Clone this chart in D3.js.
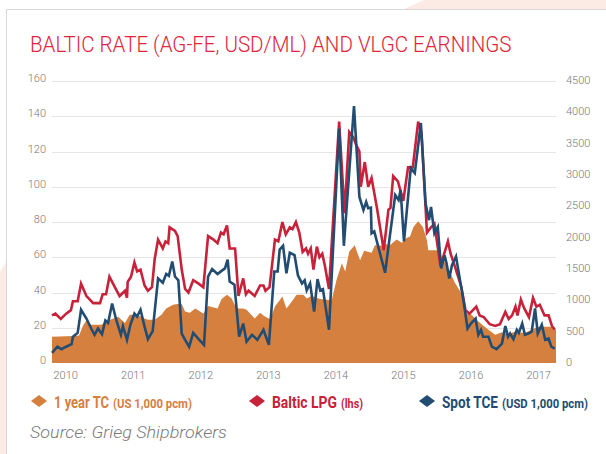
<!DOCTYPE html>
<meta charset="utf-8">
<head>
    <title>Baltic rate and VLGC earnings</title>
</head>
<script src="https://d3js.org/d3.v7.min.js"></script>
<style>
    body { margin: 0; background: #fff; }
    .tick-label { font-family: Roboto, sans-serif; font-size: 11px; font-weight: 300; fill: #777; }
    .grid { stroke: #e6e6e6; stroke-width: 1px; }
    .line { fill: none; stroke-width: 2.6px; stroke-linejoin: miter; }
</style>
<div id="viz"></div>
<script>
// ---- data (decimal year, value) ----
// Baltic LPG, left axis (USD/mt)
var balticLPG = [
 [2010.00,27],[2010.05,28],[2010.13,25],[2010.21,28],[2010.28,30],[2010.31,35],[2010.38,35],[2010.43,45],
 [2010.51,38],[2010.61,34],[2010.71,34],[2010.75,39],[2010.80,39],[2010.85,49],[2010.93,43],[2011.00,38],
 [2011.08,41],[2011.11,37],[2011.12,46],[2011.17,49],[2011.22,57],[2011.26,52],[2011.31,53],[2011.37,44],
 [2011.42,41],[2011.48,43],[2011.52,59],[2011.57,70],[2011.64,65],[2011.68,69],[2011.72,68],[2011.74,77],
 [2011.82,75],[2011.86,72],[2011.92,53],[2011.97,42],[2012.02,40],[2012.09,47],[2012.17,45],[2012.24,43],
 [2012.31,72],[2012.39,70],[2012.45,68],[2012.50,74],[2012.54,73],[2012.59,78],[2012.63,65],[2012.71,65],
 [2012.76,38],[2012.83,48],[2012.87,39],[2012.91,41],[2013.00,38],[2013.08,44],[2013.13,44],[2013.16,41],
 [2013.22,43],[2013.30,70],[2013.35,69],[2013.41,80],[2013.46,73],[2013.52,77],[2013.56,76],[2013.61,80],
 [2013.66,74],[2013.71,63],[2013.76,65],[2013.79,62],[2013.83,65],[2013.87,53],[2013.92,66],[2013.96,60],
 [2014.00,62],[2014.04,55],[2014.10,42],[2014.25,137],[2014.33,85],[2014.40,131],[2014.46,128],[2014.50,124],
 [2014.55,120],[2014.57,100],[2014.63,114],[2014.68,100],[2014.73,105],[2014.81,88],[2014.91,64],[2014.98,87],
 [2015.01,88],[2015.05,106],[2015.12,103],[2015.20,92],[2015.27,111],[2015.34,111],[2015.42,137],[2015.47,130],
 [2015.55,74],[2015.61,77],[2015.66,79],[2015.75,55],[2015.86,69],[2015.90,62],[2015.97,54],[2016.06,43],
 [2016.12,30],[2016.18,28],[2016.28,32],[2016.33,27],[2016.39,26],[2016.48,22],[2016.56,21],[2016.63,22],
 [2016.71,29],[2016.76,25],[2016.81,27],[2016.86,32],[2016.89,27],[2016.94,36],[2016.99,31],[2017.06,26],
 [2017.12,37],[2017.17,32],[2017.22,33],[2017.29,27],[2017.35,27],[2017.40,21],[2017.44,19]
];
// Spot TCE, right axis
var spotTCE = [
 [2010.00,160],[2010.08,260],[2010.14,220],[2010.21,260],[2010.29,300],[2010.31,420],[2010.38,480],[2010.43,850],
 [2010.51,710],[2010.58,550],[2010.63,450],[2010.68,550],[2010.74,460],[2010.79,680],[2010.83,640],[2010.89,950],
 [2010.95,690],[2011.02,450],[2011.05,590],[2011.11,370],[2011.16,610],[2011.22,790],[2011.26,740],[2011.31,850],
 [2011.37,580],[2011.42,380],[2011.49,510],[2011.57,1350],[2011.64,1280],[2011.69,1420],[2011.73,1390],[2011.78,1620],
 [2011.82,1380],[2011.87,1320],[2011.92,470],[2011.97,370],[2012.03,260],[2012.09,480],[2012.17,380],[2012.25,290],
 [2012.31,1380],[2012.37,1500],[2012.45,1420],[2012.51,1470],[2012.56,1510],[2012.60,1650],[2012.63,1300],[2012.70,1250],
 [2012.77,420],[2012.83,630],[2012.88,340],[2012.96,450],[2013.04,370],[2013.13,530],[2013.21,290],[2013.29,1460],
 [2013.34,1460],[2013.37,1810],[2013.42,1870],[2013.47,1430],[2013.52,1760],[2013.59,1720],[2013.64,1400],[2013.70,1270],
 [2013.74,1320],[2013.77,1160],[2013.82,1270],[2013.88,820],[2013.93,1340],[2013.97,1160],[2014.01,1180],[2014.10,530],
 [2014.25,3740],[2014.32,1870],[2014.47,4100],[2014.55,2650],[2014.61,2440],[2014.65,2570],[2014.68,2470],[2014.72,2480],
 [2014.73,2070],[2014.77,2100],[2014.93,1440],[2015.08,2680],[2015.13,2600],[2015.16,2760],[2015.21,1940],[2015.31,3110],
 [2015.37,3030],[2015.46,3830],[2015.53,2540],[2015.58,2280],[2015.61,2490],[2015.66,2070],[2015.71,2170],[2015.76,1510],
 [2015.81,1720],[2015.84,1590],[2015.88,1350],[2015.92,1560],[2015.98,1700],[2016.03,1380],[2016.09,1000],[2016.15,550],
 [2016.20,630],[2016.27,710],[2016.31,450],[2016.35,530],[2016.38,420],[2016.46,420],[2016.51,260],[2016.58,220],
 [2016.66,310],[2016.71,590],[2016.75,420],[2016.78,470],[2016.83,380],[2016.88,530],[2016.91,480],[2016.96,630],
 [2017.00,450],[2017.05,470],[2017.10,500],[2017.15,870],[2017.19,470],[2017.25,610],[2017.30,370],[2017.35,390],
 [2017.39,260],[2017.44,230]
];
// 1 year TC, right axis
var oneYearTC = [
 [2010.00,420],[2010.31,430],[2010.40,440],[2010.46,600],[2010.51,680],[2010.58,610],[2010.73,610],[2010.83,680],
 [2010.98,740],[2011.08,640],[2011.15,770],[2011.26,770],[2011.37,710],[2011.42,690],[2011.52,690],[2011.62,770],
 [2011.69,870],[2011.79,930],[2011.86,940],[2011.92,940],[2011.97,820],[2012.04,800],[2012.12,870],[2012.24,790],
 [2012.31,910],[2012.45,870],[2012.51,1020],[2012.59,1090],[2012.66,1030],[2012.73,870],[2012.83,870],[2012.88,850],
 [2013.00,710],[2013.08,800],[2013.14,750],[2013.23,700],[2013.30,900],[2013.41,1060],[2013.47,870],[2013.55,980],
 [2013.62,1090],[2013.72,1090],[2013.77,1030],[2013.84,1070],[2013.97,1020],[2014.14,1000],[2014.21,1320],[2014.29,1590],
 [2014.34,1460],[2014.40,1780],[2014.48,1880],[2014.56,1640],[2014.62,1790],[2014.73,1760],[2014.78,1880],[2014.88,1870],
 [2014.93,1900],[2015.00,1880],[2015.10,1970],[2015.18,1920],[2015.24,1990],[2015.30,2020],[2015.35,2170],[2015.42,2260],
 [2015.49,2170],[2015.55,1960],[2015.57,1800],[2015.69,1800],[2015.74,1740],[2015.86,1520],[2015.96,1290],[2016.06,1110],
 [2016.14,790],[2016.21,770],[2016.28,690],[2016.36,620],[2016.46,530],[2016.56,450],[2016.66,490],[2016.75,460],
 [2016.85,500],[2017.00,480],[2017.10,530],[2017.19,580],[2017.31,580],[2017.41,580],[2017.46,530]
];
var years = [2010, 2011, 2012, 2013, 2014, 2015, 2016, 2017];
var leftTicks = [0, 20, 40, 60, 80, 100, 120, 140, 160];
var rightTicks = [0, 500, 1000, 1500, 2000, 2500, 3000, 3500, 4000, 4500];
var legendItems = [
    {name: '1 year TC', unit: '(US 1,000 pcm)', color: '#d6803f'},
    {name: 'Baltic LPG', unit: '(lhs)', color: '#c8213a'},
    {name: 'Spot TCE', unit: '(USD 1,000 pcm)', color: '#224c72'}
];

var W = 606, H = 454;
var svg = d3.select('#viz').append('svg')
    .attr('width', W).attr('height', H);

// squeeze a text horizontally so it spans exactly `len` px
function fitText(sel, x, y, len) {
    var w = sel.node().getComputedTextLength();
    sel.attr('x', null).attr('y', null)
        .attr('transform', 'translate(' + x + ',' + y + ') scale(' + (len / w) + ',1)');
}

// background decoration + card
svg.append('path').attr('d', 'M404,9 L424,0 L606,0 L606,9 Z').attr('fill', '#fcebe4');
svg.append('path').attr('d', 'M0,272 L6,262 L6,454 L0,454 Z').attr('fill', '#fcebe4');
svg.append('path').attr('d', 'M6.5,454 L6.5,9.5 L606,9.5').attr('fill', 'none').attr('stroke', '#d8d8d8');

var title = svg.append('text')
    .style('font-family', 'Roboto, sans-serif').style('font-weight', 300)
    .style('font-size', '22px').style('fill', '#e2253c')
    .text('BALTIC RATE (AG-FE, USD/ML) AND VLGC EARNINGS');
fitText(title, 30, 52, 482);

var x = d3.scaleLinear().domain([2010, 2017.46]).range([52, 556]);
var yL = d3.scaleLinear().domain([0, 160]).range([363, 81]);
var yR = d3.scaleLinear().domain([0, 4500]).range([363, 81]);

// grid
svg.append('g').selectAll('line').data(leftTicks.slice(1)).enter().append('line')
    .attr('class', 'grid')
    .attr('x1', 52).attr('x2', 556)
    .attr('y1', function(d) { return Math.round(yL(d)) + 0.5; })
    .attr('y2', function(d) { return Math.round(yL(d)) + 0.5; });

// left axis
var gl = svg.append('g').attr('transform', 'translate(46,-3)')
    .call(d3.axisLeft(yL).tickValues(leftTicks).tickSize(0).tickPadding(0));
gl.select('.domain').remove();
gl.selectAll('text').attr('class', 'tick-label').attr('fill', null);

// right axis
var gr = svg.append('g').attr('transform', 'translate(566,-1)')
    .call(d3.axisRight(yR).tickValues(rightTicks).tickFormat(d3.format('d')).tickSize(0).tickPadding(0));
gr.select('.domain').remove();
gr.selectAll('text').attr('class', 'tick-label').attr('fill', null);

// x axis
var gx = svg.append('g').attr('transform', 'translate(1,371)')
    .call(d3.axisBottom(x).tickValues(years).tickFormat(d3.format('d')).tickSize(0).tickPadding(0));
gx.select('.domain').remove();
gx.selectAll('text').attr('class', 'tick-label').attr('fill', null).style('text-anchor', 'start');

// area
svg.append('path')
    .datum(oneYearTC)
    .attr('fill', '#d6803f')
    .attr('d', d3.area()
        .x(function(d) { return x(d[0]); })
        .y0(yR(0))
        .y1(function(d) { return yR(d[1]); }));

svg.append('path')
    .datum(balticLPG)
    .attr('class', 'line').attr('stroke', '#c8213a')
    .attr('d', d3.line().x(function(d) { return x(d[0]); }).y(function(d) { return yL(d[1]); }));

svg.append('path')
    .datum(spotTCE)
    .attr('class', 'line').attr('stroke', '#224c72')
    .attr('d', d3.line().x(function(d) { return x(d[0]); }).y(function(d) { return yR(d[1]); }));

// legend
var legX = [39, 257, 427];
var nameLen = [55, 65, 56];
var unitLen = [79, 22, 86];
legendItems.forEach(function(it, i) {
    var g = svg.append('g').attr('transform', 'translate(' + legX[i] + ',401)');
    g.append('path').attr('d', 'M-8,0 L0,-6 L8,0 L0,6 Z').attr('fill', it.color);
    var t1 = g.append('text')
        .style('font-family', 'Roboto, sans-serif').style('font-weight', 700)
        .style('font-size', '16px').style('fill', it.color)
        .text(it.name);
    fitText(t1, 15, 7, nameLen[i]);
    var t2 = g.append('text')
        .style('font-family', 'Roboto, sans-serif').style('font-weight', 700)
        .style('font-size', '12px').style('fill', it.color)
        .text(it.unit);
    fitText(t2, 15 + nameLen[i] + 4, 7, unitLen[i]);
});

var src = svg.append('text')
    .style('font-family', 'Roboto, sans-serif').style('font-weight', 300).style('font-style', 'italic')
    .style('font-size', '17px').style('fill', '#7a7a7a')
    .text('Source: Grieg Shipbrokers');
fitText(src, 30, 438, 197);
</script>
